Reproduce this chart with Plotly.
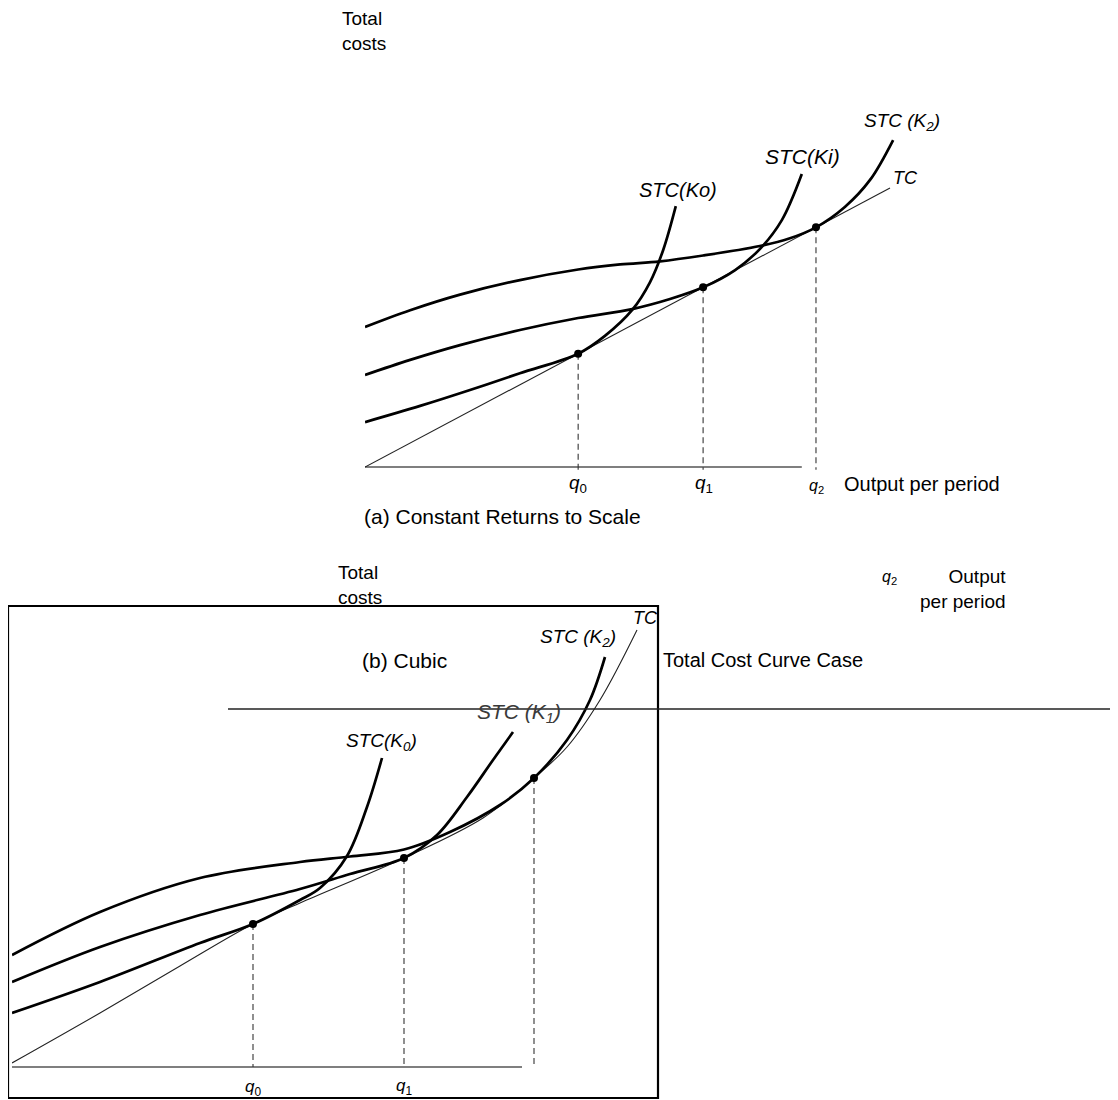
import plotly.graph_objects as go

# ---------------- DATA ----------------
# Panel (a): constant returns to scale (output units, cost units)
a_tc_q = [0, 10]
a_tc_c = [0, 10]
a_k0_q = [0, 1.05, 2.0, 2.95, 4.06, 4.57, 5.09, 5.43, 5.68, 5.92]
a_k0_c = [1.61, 2.19, 2.76, 3.36, 4.06, 4.70, 5.63, 6.63, 7.78, 9.35]
a_k1_q = [0, 0.86, 1.81, 2.95, 4.06, 5.09, 5.81, 6.44, 7.05, 7.52, 7.94, 8.32]
a_k1_c = [3.30, 3.84, 4.37, 4.91, 5.34, 5.66, 6.02, 6.44, 7.06, 7.81, 8.85, 10.50]
a_k2_q = [0, 0.86, 1.81, 2.95, 4.06, 4.86, 5.62, 6.44, 7.52, 8.08, 8.59, 9.14, 9.62, 10.06]
a_k2_c = [5.02, 5.62, 6.18, 6.70, 7.08, 7.26, 7.37, 7.58, 7.92, 8.19, 8.59, 9.32, 10.29, 11.72]
a_q_pts = [4.06, 6.44, 8.59]
a_c_pts = [4.06, 6.44, 8.59]
a_axis_end = 8.32

# Panel (b): cubic total cost curve
b_tc_q = [0, 1.76, 3.36, 4.82, 5.76, 7.84, 9.42, 10.44, 11.1, 11.76, 12.5]
b_tc_c = [0.16, 2.16, 4.04, 5.72, 6.56, 8.36, 9.96, 11.56, 12.8, 14.68, 17.48]
b_k0_q = [0, 1.76, 3.76, 4.82, 5.76, 6.16, 6.7, 7.1, 7.4]
b_k0_c = [2.16, 3.4, 4.96, 5.72, 6.68, 7.16, 8.44, 10.4, 12.36]
b_k1_q = [0, 1.76, 3.76, 5.76, 6.76, 7.84, 8.5, 9.1, 9.62, 10.02]
b_k1_c = [3.4, 4.8, 6.08, 7.12, 7.72, 8.36, 9.28, 10.8, 12.28, 13.4]
b_k2_q = [0, 1.76, 3.76, 5.76, 6.76, 7.84, 8.76, 9.76, 10.44, 11.1, 11.56, 11.86]
b_k2_c = [4.48, 6.2, 7.56, 8.2, 8.42, 8.7, 9.4, 10.48, 11.56, 13.08, 14.68, 16.4]
b_q_pts = [4.82, 7.84, 10.44]
b_c_pts = [5.72, 8.36, 11.56]
b_axis_end = 10.2

# ---------------- LAYOUT HELPERS ----------------
# the page places the plot 8 px from the top-left corner of the window
OFF = 8
W, H = 1110, 1092
FONT = "Liberation Sans, Arial, sans-serif"


def px(x):
    return (x - OFF) / W


def py(y):
    return 1 - (y - OFF) / H


fig = go.Figure()

# panel (a): x unit 52.5 px from px 365, y unit 27.9 px from py 467
a_xr = [0, 10.4]
a_yr = [-0.3, 12.4]
a_xdom = [px(365), px(365 + a_xr[1] * 52.5)]
a_ydom = [py(467 - a_yr[0] * 27.9), py(467 - a_yr[1] * 27.9)]
# panel (b): x unit 50 px from px 12, y unit 25 px from py 1067
b_xr = [0, 13.0]
b_yr = [-0.3, 18.4]
b_xdom = [px(12), px(12 + b_xr[1] * 50)]
b_ydom = [py(1067 - b_yr[0] * 25), py(1067 - b_yr[1] * 25)]

thick = dict(color="black", width=2.7, shape="spline", smoothing=1.0)
dash = dict(color="#333", width=1.1, dash="6px,4px")
axis_line = dict(color="#555", width=1.6)


def add(x, y, line, xa, ya, mode="lines", marker=None):
    fig.add_trace(go.Scatter(x=x, y=y, mode=mode, line=line, marker=marker,
                             xaxis=xa, yaxis=ya, hoverinfo="skip", showlegend=False))


# ---- panel (a) ----
add([0, a_axis_end], [0, 0], axis_line, "x", "y")
for q, c in zip(a_q_pts, a_c_pts):
    add([q, q], [c, -0.1], dash, "x", "y")
add(a_tc_q, a_tc_c, dict(color="#222", width=1.1), "x", "y")
add(a_k0_q, a_k0_c, thick, "x", "y")
add(a_k1_q, a_k1_c, thick, "x", "y")
add(a_k2_q, a_k2_c, thick, "x", "y")
add(a_q_pts, a_c_pts, None, "x", "y", mode="markers", marker=dict(color="black", size=8))

# ---- panel (b) ----
add([0, b_axis_end], [0, 0], axis_line, "x2", "y2")
for q, c in zip(b_q_pts, b_c_pts):
    add([q, q], [c, 0], dash, "x2", "y2")
add(b_tc_q, b_tc_c, dict(color="#222", width=1.1, shape="spline", smoothing=1.0), "x2", "y2")
add(b_k0_q, b_k0_c, thick, "x2", "y2")
add(b_k1_q, b_k1_c, thick, "x2", "y2")
add(b_k2_q, b_k2_c, thick, "x2", "y2")
add(b_q_pts, b_c_pts, None, "x2", "y2", mode="markers", marker=dict(color="black", size=8))

ax_common = dict(visible=False, fixedrange=True)
fig.update_layout(
    width=W, height=H,
    margin=dict(l=0, r=0, t=0, b=0),
    paper_bgcolor="white", plot_bgcolor="rgba(0,0,0,0)",
    font=dict(family=FONT, color="black", size=20),
    xaxis=dict(domain=a_xdom, range=a_xr, anchor="y", **ax_common),
    yaxis=dict(domain=a_ydom, range=a_yr, anchor="x", **ax_common),
    xaxis2=dict(domain=b_xdom, range=b_xr, anchor="y2", **ax_common),
    yaxis2=dict(domain=b_ydom, range=b_yr, anchor="x2", **ax_common),
)

# frame around panel (b) and the stray horizontal rule
fig.add_shape(type="rect", xref="paper", yref="paper",
              x0=px(8), x1=px(658), y0=py(1098), y1=py(606),
              line=dict(color="black", width=2.2), fillcolor="rgba(0,0,0,0)")
fig.add_shape(type="line", xref="paper", yref="paper",
              x0=px(228), x1=1, y0=py(709), y1=py(709),
              line=dict(color="#222", width=1.3))


def text(x, y, s, size=20, xanchor="center", yanchor="middle", color="black", align="left"):
    fig.add_annotation(x=px(x), y=py(y), xref="paper", yref="paper", text=s, showarrow=False,
                       xanchor=xanchor, yanchor=yanchor, align=align,
                       font=dict(family=FONT, size=size, color=color))


# panel (a) text
text(340, 31, "Total<br>costs", xanchor="left", size=19)
text(678, 190, "<i>STC(Ko)</i>", size=20)
text(802, 157, "<i>STC(Ki)</i>", size=21)
text(862, 122, "<i>STC (K<sub>2</sub>)</i>", xanchor="left", size=19)
text(891, 178, "<i>TC</i>", xanchor="left", size=18)
text(578, 484, "<i>q</i><sub>0</sub>", size=19)
text(704, 484, "<i>q</i><sub>1</sub>", size=19)
text(816, 486, "<i>q</i><sub>2</sub>", size=16)
text(842, 484, "Output per period", xanchor="left", size=20)
text(502, 516, "(a) Constant Returns to Scale", size=21)

# panel (b) text
text(336, 585, "Total<br>costs", xanchor="left", size=19)
text(889, 577, "<i>q</i><sub>2</sub>", size=16)
text(1008, 589, "Output<br>per period", xanchor="right", align="right", size=19)
text(404, 660, "(b) Cubic", size=21)
text(661, 660, "Total Cost Curve Case", xanchor="left", size=20)
text(645, 618, "<i>TC</i>", size=18)
text(578, 638, "<i>STC (K<sub>2</sub>)</i>", size=19)
text(519, 713, "<i>STC (K<sub>1</sub>)</i>", size=21, color="#3a3a3a")
text(381, 742, "<i>STC(K<sub>0</sub>)</i>", size=19)
text(253, 1088, "<i>q</i><sub>0</sub>", size=17)
text(404, 1087, "<i>q</i><sub>1</sub>", size=17)

fig.write_html("out.html")
